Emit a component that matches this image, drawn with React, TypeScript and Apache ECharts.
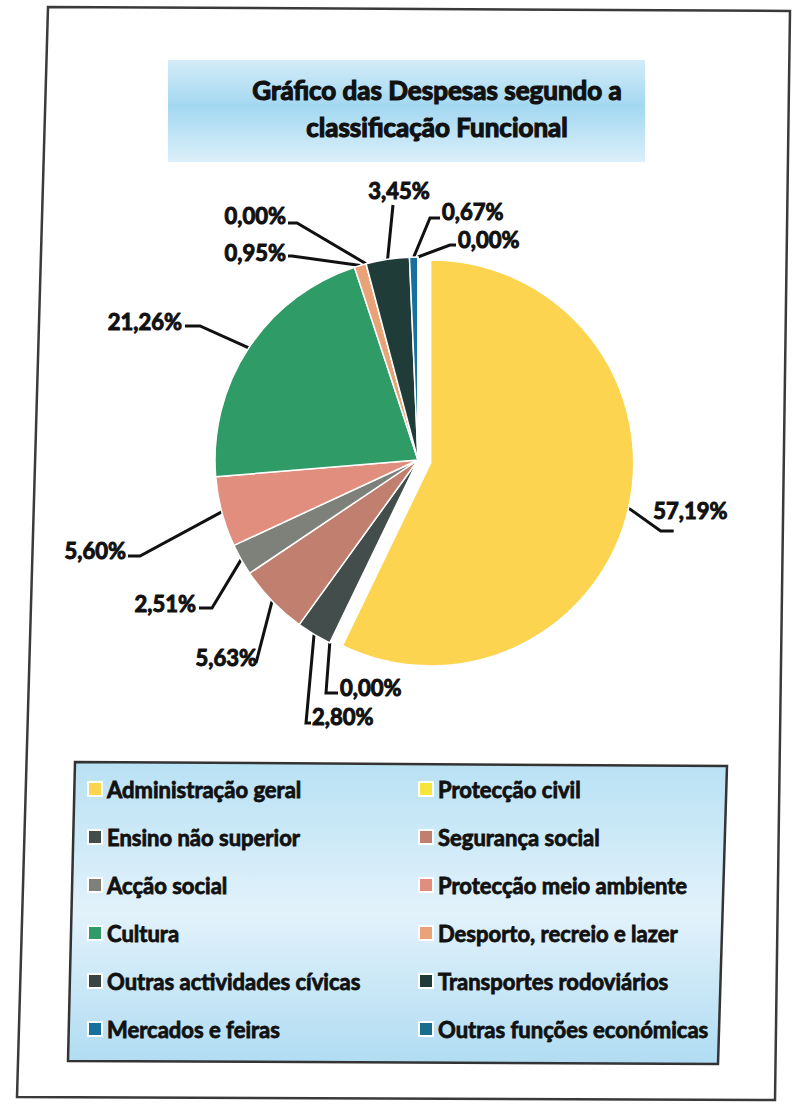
import React, { useEffect, useRef } from "react";
import * as echarts from "echarts";

const titleLines = ["Gráfico das Despesas segundo a", "classificação Funcional"];

const categories = [
  "Administração geral",
  "Protecção civil",
  "Ensino não superior",
  "Segurança social",
  "Acção social",
  "Protecção meio ambiente",
  "Cultura",
  "Desporto, recreio e lazer",
  "Outras actividades cívicas",
  "Transportes rodoviários",
  "Mercados e feiras",
  "Outras funções económicas",
];

const values = [57.19, 0.0, 2.8, 5.63, 2.51, 5.6, 21.26, 0.95, 0.0, 3.45, 0.67, 0.0];

const colors = [
  "#FDD44F",
  "#F6E63C",
  "#434D4B",
  "#C17F6F",
  "#7E817A",
  "#E18E7E",
  "#2F9B66",
  "#EAA278",
  "#3A4442",
  "#1F3C39",
  "#17709E",
  "#1A6C8C",
];

// label layout: text anchor (x, y, align), elbow point (ex, ey), line end (tx, ty)
const labelAnchors = [
  { x: 671, y: 521, align: "left", ex: 648, ey: 528, tx: 661, ty: 528 },
  { x: 340, y: 687, align: "left", ex: 326, ey: 693, tx: 338, ty: 693 },
  { x: 312, y: 716, align: "left", ex: 306, ey: 723, tx: 311, ty: 723 },
  { x: 257, y: 657, align: "right", ex: 256, ey: 663, tx: 256, ty: 663 },
  { x: 196, y: 603, align: "right", ex: 212, ey: 608, tx: 199, ty: 608 },
  { x: 126, y: 550, align: "right", ex: 140, ey: 556, tx: 128, ty: 556 },
  { x: 182, y: 321, align: "right", ex: 200, ey: 326, tx: 185, ty: 326 },
  { x: 286, y: 252, align: "right", ex: 292, ey: 256, tx: 288, ty: 256 },
  { x: 286, y: 215, align: "right", ex: 297, ey: 223, tx: 288, ty: 223 },
  { x: 399, y: 190, align: "center", ex: 393, ey: 205, tx: 393, ty: 205 },
  { x: 442, y: 211, align: "left", ex: 430, ey: 218, tx: 440, ty: 218 },
  { x: 458, y: 239, align: "left", ex: 450, ey: 245, tx: 456, ty: 245 },
];

const leftIdx = [0, 2, 4, 6, 8, 10];
const rightIdx = [1, 3, 5, 7, 9, 11];

export default function App() {
  const ref = useRef<HTMLDivElement>(null);
  useEffect(() => {
    if (!ref.current) return;
    const chart = echarts.init(ref.current, null, { renderer: "svg" });
    const fmt = (v: number) => v.toFixed(2).replace(".", ",") + "%";
    const legendText = {
      fontSize: 22,
      fontWeight: "bold",
      fontFamily: "Lato",
      color: "#111",
      lineHeight: 24,
      textBorderColor: "#111",
      textBorderWidth: 0.8,
    };
    const titleStyle = {
      textAlign: "center",
      textVerticalAlign: "middle",
      fontSize: 26,
      fontWeight: "bold",
      fontFamily: "Lato",
      fill: "#111",
      stroke: "#111",
      lineWidth: 1.2,
    };
    const option: any = {
      animation: false,
      backgroundColor: "#ffffff",
      graphic: [
        {
          type: "polygon",
          shape: { points: [[48, 7], [790, 11], [775, 1100], [17, 1097]] },
          style: { fill: "none", stroke: "#3a3a3a", lineWidth: 2.5 },
          z: 0,
        },
        {
          type: "rect",
          shape: { x: 168, y: 60, width: 477, height: 102 },
          style: {
            fill: {
              type: "linear",
              x: 0,
              y: 0,
              x2: 0,
              y2: 1,
              colorStops: [
                { offset: 0, color: "#d4ecf8" },
                { offset: 0.45, color: "#a3d8f1" },
                { offset: 1, color: "#dcf0fa" },
              ],
            },
          },
          z: 0,
        },
        {
          type: "text",
          x: 437,
          y: 90,
          style: Object.assign({ text: titleLines[0] }, titleStyle),
          z: 2,
        },
        {
          type: "text",
          x: 437,
          y: 127,
          style: Object.assign({ text: titleLines[1] }, titleStyle),
          z: 2,
        },
        {
          type: "polygon",
          shape: { points: [[75, 762], [727, 766], [718, 1064], [68, 1061]] },
          style: {
            fill: {
              type: "linear",
              x: 0,
              y: 0,
              x2: 0,
              y2: 1,
              colorStops: [
                { offset: 0, color: "#b8e1f4" },
                { offset: 0.5, color: "#e2f2fb" },
                { offset: 1, color: "#b0dcf2" },
              ],
            },
            stroke: "#333",
            lineWidth: 2.5,
          },
          z: 0,
        },
      ],
      legend: [
        {
          data: leftIdx.map((i) => categories[i]),
          orient: "vertical",
          left: 82,
          top: 772,
          itemWidth: 14,
          itemHeight: 14,
          itemGap: 24,
          icon: "rect",
          selectedMode: false,
          textStyle: legendText,
          z: 3,
        },
        {
          data: rightIdx.map((i) => categories[i]),
          orient: "vertical",
          left: 413,
          top: 772,
          itemWidth: 14,
          itemHeight: 14,
          itemGap: 24,
          icon: "rect",
          selectedMode: false,
          textStyle: legendText,
          z: 3,
        },
      ],
      series: [
        {
          type: "pie",
          center: [418, 460],
          radius: 203,
          startAngle: 90,
          clockwise: true,
          selectedMode: "single",
          selectedOffset: 13,
          avoidLabelOverlap: false,
          emphasis: { disabled: true },
          itemStyle: { borderColor: "#ffffff", borderWidth: 1.5 },
          label: {
            show: true,
            formatter: (p: any) => fmt(p.value),
            fontSize: 22,
            fontWeight: "bold",
            fontFamily: "Lato",
            color: "#111",
            textBorderColor: "#111",
            textBorderWidth: 1,
          },
          labelLine: {
            show: true,
            length: 10,
            length2: 10,
            lineStyle: { color: "#111", width: 3 },
          },
          labelLayout: (params: any) => {
            const a = labelAnchors[params.dataIndex];
            const p0 =
              params.labelLinePoints && params.labelLinePoints[0]
                ? params.labelLinePoints[0]
                : [a.ex, a.ey];
            return {
              x: a.x,
              y: a.y,
              align: a.align,
              verticalAlign: "middle",
              labelLinePoints: [p0, [a.ex, a.ey], [a.tx, a.ty]],
            };
          },
          data: categories.map((name, i) => ({
            name,
            value: values[i],
            selected: i === 0,
            itemStyle: { color: colors[i] },
          })),
        },
      ],
    };
    chart.setOption(option);
    return () => chart.dispose();
  }, []);
  return (
    <div
      ref={ref}
      style={{ position: "absolute", left: 0, top: 0, width: 792, height: 1109 }}
    />
  );
}
